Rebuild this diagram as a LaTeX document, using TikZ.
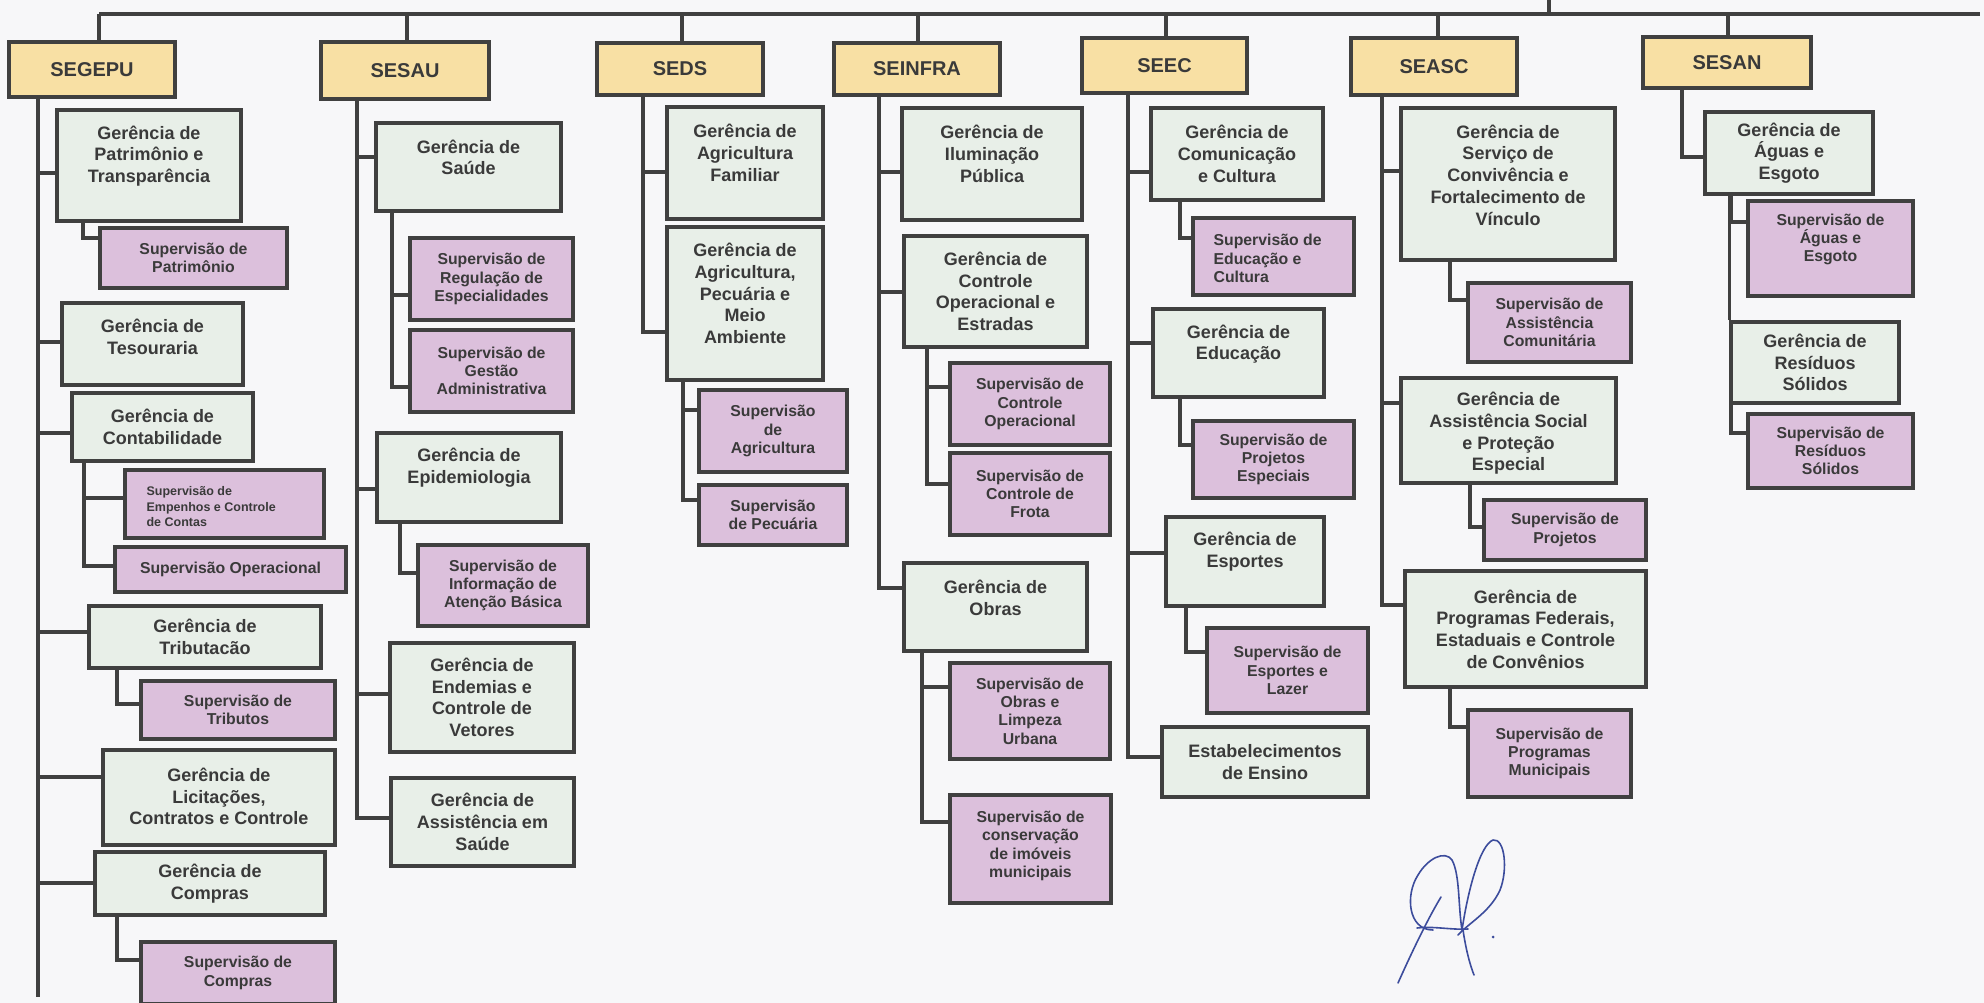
\documentclass[tikz,border=0pt]{standalone}
\usepackage{fontspec}
\setmainfont{Liberation Sans}
\definecolor{bg}{HTML}{F7F7F9}
\definecolor{yfill}{HTML}{F8E0A4}
\definecolor{gfill}{HTML}{E8EFE8}
\definecolor{pfill}{HTML}{DCC0DC}
\definecolor{edge}{HTML}{404040}
\definecolor{ink}{HTML}{3A3A3A}
\definecolor{sig}{HTML}{3C4C9C}
\tikzset{
 boxbase/.style={draw=edge, line width=3.2pt, inner sep=0pt, rectangle},
 ybox/.style={boxbase, fill=yfill},
 gbox/.style={boxbase, fill=gfill},
 pbox/.style={boxbase, fill=pfill},
 yboxt/.style={text=ink, align=center, font=\bfseries\fontsize{20}{24}\selectfont, inner sep=0pt},
 gboxt/.style={text=ink, align=center, font=\bfseries\fontsize{18}{21.7}\selectfont, inner sep=0pt},
 pboxt/.style={text=ink, align=center, font=\bfseries\fontsize{15.8}{18.3}\selectfont, inner sep=0pt},
 conn/.style={draw=edge, line width=3.2pt},
 signature/.style={draw=sig, line width=1.6pt, line cap=round, line join=round},
}
% style, name, x1, y1, x2, y2, text lift, text
\newcommand\bx[8]{%
  \node[#1, minimum width={#5-#3}, minimum height={#6-#4}] (#2) at ({(#3+#5)/2},{(#4+#6)/2}) {};
  \node[#1t] (#2-t) at ([yshift=#7]#2.center) {#8};}
% parent, x of drop, child, y of branch
\newcommand\cn[4]{\draw[conn] (#1.south -| #2,0) |- (#3.west |- 0,#4);}
\begin{document}
\begin{tikzpicture}[x=1pt,y=-1pt]
\useasboundingbox (0,0) rectangle (1984,1003);
\clip (0,0) rectangle (1984,1003);
\fill[bg] (0,0) rectangle (1984,1003);

% ---------- top level boxes
\bx{ybox}{segepu}{9}{42}{175}{97}{0}{SEGEPU}
\bx{ybox}{sesau}{321}{42}{489}{99}{0}{SESAU}
\bx{ybox}{seds}{597}{43}{763}{95}{0}{SEDS}
\bx{ybox}{seinfra}{834}{43}{1000}{95}{0}{SEINFRA}
\bx{ybox}{seec}{1082}{38}{1247}{93}{0}{SEEC}
\bx{ybox}{seasc}{1351}{38}{1517}{95}{0}{SEASC}
\bx{ybox}{sesan}{1643}{37}{1811}{88}{0}{SESAN}

% ---------- SEGEPU
\bx{gbox}{gpat}{57}{110}{241}{221}{9.5}{Gerência de\\Patrimônio e\\Transparência}
\bx{pbox}{spat}{100}{228}{287}{288}{0}{Supervisão de\\Patrimônio}
\bx{gbox}{gtes}{62}{303}{243}{385}{7}{Gerência de\\Tesouraria}
\bx{gbox}{gcon}{72}{393}{253}{461}{0}{Gerência de\\Contabilidade}
\node[pbox, minimum width=199, minimum height=68] (semp) at (224.5,504) {};
\node[pboxt, align=left, anchor=west, font=\bfseries\fontsize{12.5}{15.5}\selectfont] (semp-t) at ([xshift=23,yshift=-3]semp.west) {Supervisão de\\Empenhos e Controle\\de Contas};
\bx{pbox}{sope}{115}{547}{346}{592}{0}{Supervisão Operacional}
\bx{gbox}{gtri}{89}{606}{321}{668}{0}{Gerência de\\Tributacão}
\bx{pbox}{strib}{141}{681}{335}{739}{0}{Supervisão de\\Tributos}
\bx{gbox}{glic}{103}{750}{335}{845}{1}{Gerência de\\Licitações,\\Contratos e Controle}
\bx{gbox}{gcom}{95}{852}{325}{915}{0}{Gerência de\\Compras}
\bx{pbox}{scom}{141}{942}{335}{1004}{0}{Supervisão de\\Compras}

% ---------- SESAU
\bx{gbox}{gsau}{376}{123}{561}{211}{9.5}{Gerência de\\Saúde}
\bx{pbox}{sreg}{410}{238}{573}{320}{0}{Supervisão de\\Regulação de\\Especialidades}
\bx{pbox}{sges}{410}{330}{573}{412}{0}{Supervisão de\\Gestão\\Administrativa}
\bx{gbox}{gepi}{377}{433}{561}{522}{9.5}{Gerência de\\Epidemiologia}
\bx{pbox}{sinf}{418}{545}{588}{626}{0}{Supervisão de\\Informação de\\Atenção Básica}
\bx{gbox}{gend}{390}{643}{574}{752}{0}{Gerência de\\Endemias e\\Controle de\\Vetores}
\bx{gbox}{gass}{391}{778}{574}{866}{0}{Gerência de\\Assistência em\\Saúde}

% ---------- SEDS
\bx{gbox}{gagf}{667}{107}{823}{219}{10}{Gerência de\\Agricultura\\Familiar}
\bx{gbox}{gagp}{667}{227}{823}{380}{10}{Gerência de\\Agricultura,\\Pecuária e\\Meio\\Ambiente}
\bx{pbox}{sagr}{699}{390}{847}{472}{0}{Supervisão\\de\\Agricultura}
\bx{pbox}{spec}{699}{485}{847}{545}{0}{Supervisão\\de Pecuária}

% ---------- SEINFRA
\bx{gbox}{gilu}{902}{108}{1082}{220}{10}{Gerência de\\Iluminação\\Pública}
\bx{gbox}{gcoe}{904}{236}{1087}{347}{0}{Gerência de\\Controle\\Operacional e\\Estradas}
\bx{pbox}{scop}{950}{363}{1110}{445}{0}{Supervisão de\\Controle\\Operacional}
\bx{pbox}{sfro}{950}{453}{1110}{535}{0}{Supervisão de\\Controle de\\Frota}
\bx{gbox}{gobr}{904}{563}{1087}{651}{9}{Gerência de\\Obras}
\bx{pbox}{sobr}{950}{663}{1110}{759}{0}{Supervisão de\\Obras e\\Limpeza\\Urbana}
\bx{pbox}{scons}{950}{795}{1111}{903}{3}{Supervisão de\\conservação\\de imóveis\\municipais}

% ---------- SEEC
\bx{gbox}{gcomu}{1151}{108}{1323}{200}{0}{Gerência de\\Comunicação\\e Cultura}
\node[pbox, minimum width=161, minimum height=77] (sedu) at (1273.5,256.5) {};
\node[pboxt, align=left, anchor=west] (sedu-t) at ([xshift=22,yshift=-2]sedu.west) {Supervisão de\\Educação e\\Cultura};
\bx{gbox}{gedu}{1153}{309}{1324}{397}{9}{Gerência de\\Educação}
\bx{pbox}{sproe}{1193}{421}{1354}{498}{0}{Supervisão de\\Projetos\\Especiais}
\bx{gbox}{gesp}{1166}{517}{1324}{606}{10}{Gerência de\\Esportes}
\bx{pbox}{sesp}{1207}{628}{1368}{713}{0}{Supervisão de\\Esportes e\\Lazer}
\bx{gbox}{gest}{1162}{727}{1368}{797}{0}{Estabelecimentos\\de Ensino}

% ---------- SEASC
\bx{gbox}{gser}{1401}{108}{1615}{260}{9}{Gerência de\\Serviço de\\Convivência e\\Fortalecimento de\\Vínculo}
\bx{pbox}{sasc}{1468}{283}{1631}{362}{0}{Supervisão de\\Assistência\\Comunitária}
\bx{gbox}{gasp}{1401}{378}{1616}{483}{-3}{Gerência de\\Assistência Social\\e Proteção\\Especial}
\bx{pbox}{sprj}{1484}{500}{1646}{560}{0}{Supervisão de\\Projetos}
\bx{gbox}{gprf}{1405}{571}{1646}{687}{0}{Gerência de\\Programas Federais,\\Estaduais e Controle\\de Convênios}
\bx{pbox}{sprm}{1468}{710}{1631}{797}{0}{Supervisão de\\Programas\\Municipais}

% ---------- SESAN
\bx{gbox}{gagu}{1705}{112}{1873}{194}{0}{Gerência de\\Águas e\\Esgoto}
\bx{pbox}{sagu}{1748}{201}{1913}{296}{9}{Supervisão de\\Águas e\\Esgoto}
\bx{gbox}{gres}{1731}{322}{1899}{403}{0}{Gerência de\\Resíduos\\Sólidos}
\bx{pbox}{sres}{1748}{414}{1913}{488}{0}{Supervisão de\\Resíduos\\Sólidos}

% ---------- top bar
\coordinate (topA) at (99,14);
\coordinate (topB) at (1980,14);
\coordinate (up) at (1549,0);
\coordinate (hSESAU) at (407,14);
\coordinate (hSEDS) at (682,14);
\coordinate (hSEINFRA) at (918,14);
\coordinate (hSEEC) at (1166,14);
\coordinate (hSEASC) at (1438,14);
\coordinate (hSESAN) at (1728,14);
\draw[conn] (topA) -- (topB);
\draw[conn] (up) -- (up |- topA);
\draw[conn] (segepu.north -| topA) -- (topA);
\draw[conn] (sesau.north -| hSESAU) -- (hSESAU);
\draw[conn] (seds.north -| hSEDS) -- (hSEDS);
\draw[conn] (seinfra.north -| hSEINFRA) -- (hSEINFRA);
\draw[conn] (seec.north -| hSEEC) -- (hSEEC);
\draw[conn] (seasc.north -| hSEASC) -- (hSEASC);
\draw[conn] (sesan.north -| hSESAN) -- (hSESAN);

% ---------- trunks
\coordinate (segEnd) at (38,997);
\draw[conn] (segepu.south -| segEnd) -- (segEnd);
\cn{segepu}{38}{gpat}{173}
\cn{segepu}{38}{gtes}{342}
\cn{segepu}{38}{gcon}{433}
\cn{segepu}{38}{gtri}{632}
\cn{segepu}{38}{glic}{777}
\cn{segepu}{38}{gcom}{883}
\cn{sesau}{357}{gsau}{157}
\cn{sesau}{357}{gepi}{489}
\cn{sesau}{357}{gend}{694}
\cn{sesau}{357}{gass}{818}
\cn{seds}{643}{gagf}{172}
\cn{seds}{643}{gagp}{332}
\cn{seinfra}{879}{gilu}{172}
\cn{seinfra}{879}{gcoe}{292}
\cn{seinfra}{879}{gobr}{588}
\cn{seec}{1128}{gcomu}{172}
\cn{seec}{1128}{gedu}{343}
\cn{seec}{1128}{gesp}{553}
\cn{seec}{1128}{gest}{757}
\cn{seasc}{1382}{gser}{171}
\cn{seasc}{1382}{gasp}{403}
\cn{seasc}{1382}{gprf}{605}
\cn{sesan}{1682}{gagu}{157}

% ---------- sub connectors
\cn{gpat}{83}{spat}{238}
\cn{gcon}{84}{semp}{498}
\cn{gcon}{84}{sope}{566}
\cn{gtri}{117}{strib}{704}
\cn{gcom}{117}{scom}{960}
\cn{gsau}{392}{sreg}{295}
\cn{gsau}{392}{sges}{387}
\cn{gepi}{400}{sinf}{573}
\cn{gagp}{683}{sagr}{410}
\cn{gagp}{683}{spec}{500}
\cn{gcoe}{927}{scop}{387}
\cn{gcoe}{927}{sfro}{484}
\cn{gobr}{922}{sobr}{687}
\cn{gobr}{922}{scons}{822}
\cn{gcomu}{1180}{sedu}{238}
\cn{gedu}{1180}{sproe}{445}
\cn{gesp}{1186}{sesp}{652}
\cn{gser}{1450}{sasc}{300}
\cn{gasp}{1470}{sprj}{527}
\cn{gprf}{1450}{sprm}{727}
\cn{gagu}{1731}{sagu}{222}
\draw[conn] (gagu.south -| gres.west) -- (gres.north west);
\cn{gres}{1731}{sres}{433}

% ---------- signature
\draw[signature] (1398,983) .. controls (1415,945) and (1430,915) .. (1441,897);
\draw[signature] (1433,930) .. controls (1408,930) and (1405,895) .. (1418,875)
   .. controls (1428,858) and (1445,850) .. (1452,860)
   .. controls (1460,875) and (1458,905) .. (1462,930);
\draw[signature] (1417,928) .. controls (1435,926) and (1450,930) .. (1468,929);
\draw[signature] (1462,930) .. controls (1468,890) and (1480,845) .. (1493,840)
   .. controls (1505,838) and (1508,870) .. (1500,890)
   .. controls (1490,912) and (1470,922) .. (1458,935);
\draw[signature] (1463,930) .. controls (1466,950) and (1470,965) .. (1474,975);
\fill[sig] (1493,937) circle (1.5);
\end{tikzpicture}
\end{document}
